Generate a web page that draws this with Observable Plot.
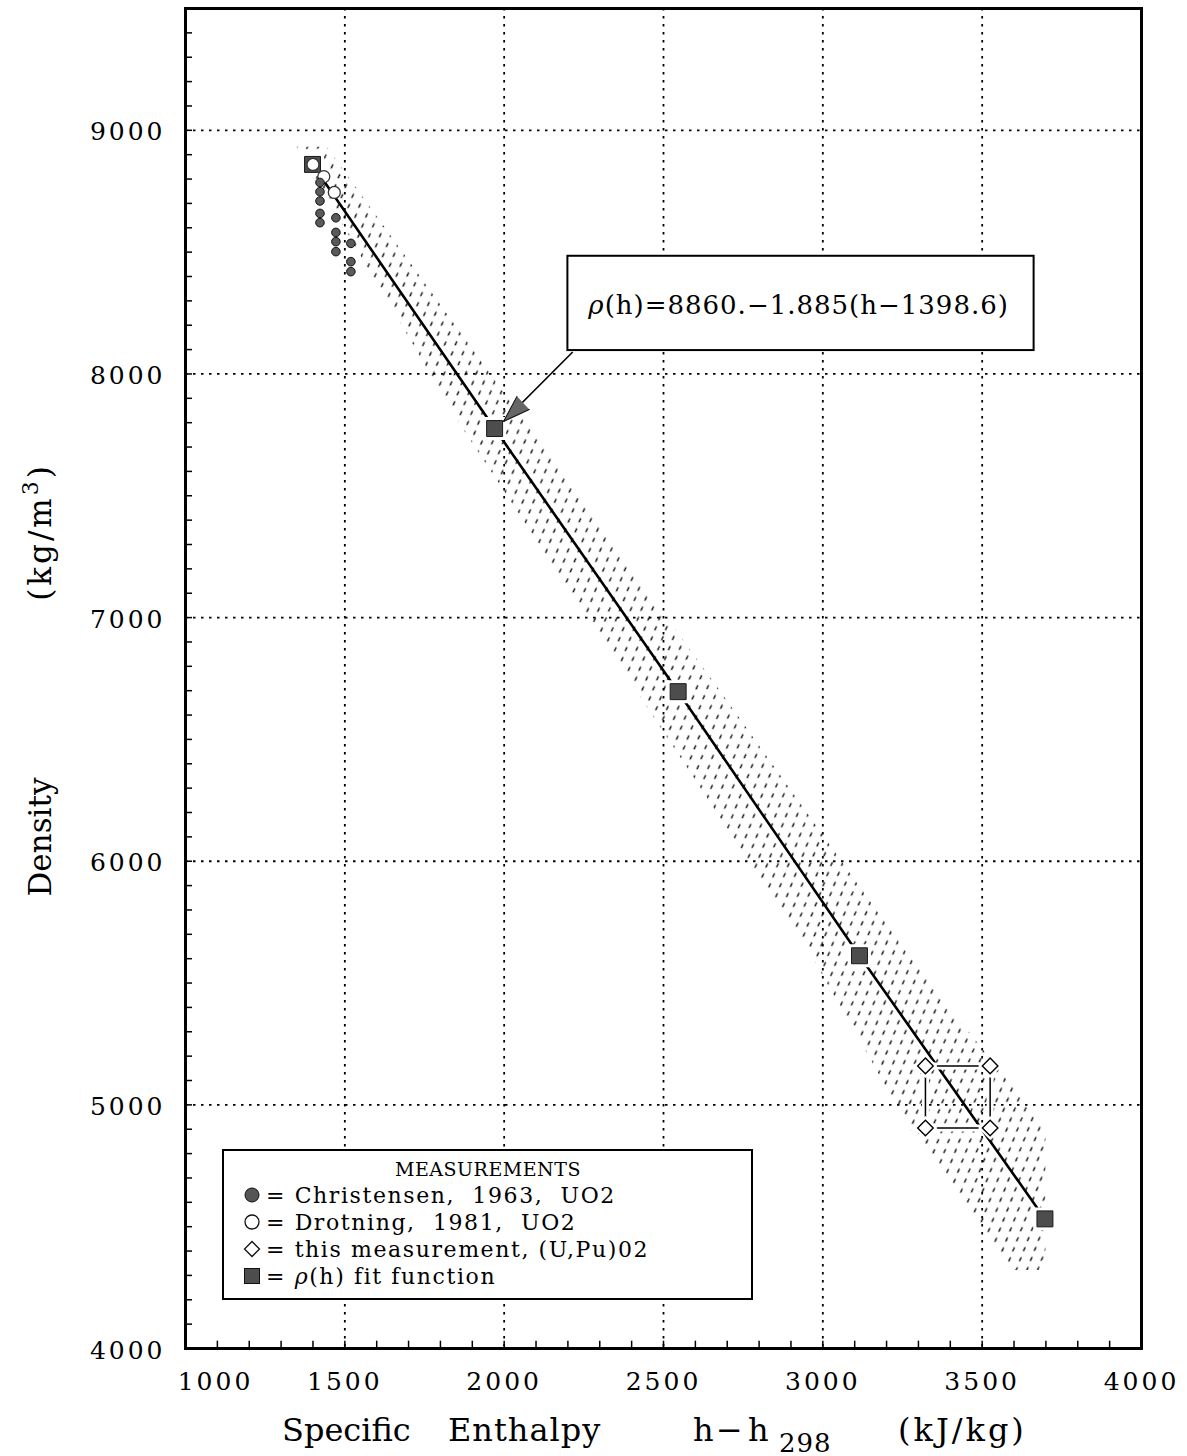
<!DOCTYPE html>
<html><head><meta charset="utf-8">
<script src="https://cdn.jsdelivr.net/npm/d3@7"></script>
<script src="https://cdn.jsdelivr.net/npm/@observablehq/plot@0.6"></script>
<style>
html,body{margin:0;padding:0;background:#fff;}
#chart svg{display:block;}
</style></head><body>
<div id="chart"></div>
<script>
// ---- data ----
const fitH   = [1398.6, 1970, 2546, 3115, 3697];
const fitRho = [8860, 7776, 6696, 5612, 4532];

const christensenH   = [1422, 1422, 1422, 1422, 1422, 1472, 1472, 1472, 1472, 1519, 1519, 1519];
const christensenRho = [8786, 8748, 8710, 8659, 8621, 8641, 8581, 8543, 8502, 8536, 8461, 8420];

const drotningH   = [1400, 1434, 1467];
const drotningRho = [8860, 8810, 8745];

const thisH   = [3322, 3525, 3525, 3322];
const thisRho = [5160, 5160, 4905, 4905];

// uncertainty band (stippled area) edges
const bandRho = [8930, 7776, 6696, 5612, 4900, 4320];
const bandLo  = [1350, 1870, 2417, 2965, 3275, 3600];
const bandHi  = [1445, 2080, 2680, 3270, 3700, 3700];

const xTicks = [1000, 1500, 2000, 2500, 3000, 3500, 4000];
const yTicks = [4000, 5000, 6000, 7000, 8000, 9000];
const xGrid  = [1500, 2000, 2500, 3000, 3500];
const yGrid  = [5000, 6000, 7000, 8000, 9000];
const xMinor = d3.range(1100, 4000, 100);
const yMinor = d3.range(4100, 9500, 100);

const noteText = "ρ(h)=8860.−1.885(h−1398.6)";
const noteBox  = {h1: 2200, h2: 3663, rho1: 8096, rho2: 8483, hc: 2924, rhoc: 8281};
const arrowFrom = {h: 2215, rho: 8090};
const arrowTip  = {h: 1998, rho: 7805};

const legendTitle = "MEASUREMENTS";
const legendLabels = ["= Christensen,  1963,  UO2", "= Drotning,  1981,  UO2", "= this measurement, (U,Pu)02", "(h) fit function"];

// ---- tables built from the arrays ----
const fit = fitH.map((h, i) => ({h, rho: fitRho[i]}));
const chr = christensenH.map((h, i) => ({h, rho: christensenRho[i]}));
const dro = drotningH.map((h, i) => ({h, rho: drotningRho[i]}));
const meas = thisH.map((h, i) => ({h, rho: thisRho[i]}));
const measLoop = [...meas, meas[0]];
const band = bandRho.map((rho, i) => ({rho, lo: bandLo[i], hi: bandHi[i]}));

const F = "DejaVu Serif";

const plot = Plot.plot({
  width: 1187, height: 1456,
  marginLeft: 185, marginRight: 46, marginTop: 8, marginBottom: 108,
  x: {domain: [1000, 4000], axis: null},
  y: {domain: [4000, 9500], axis: null},
  style: {fontFamily: F, background: "white", color: "black", overflow: "visible"},
  marks: [
    Plot.areaX(band, {y: "rho", x1: "lo", x2: "hi", fill: "url(#stipple)"}),
    Plot.ruleX(xGrid, {x: d => d, stroke: "black", strokeWidth: 1.8, strokeDasharray: "2.5,5.5"}),
    Plot.ruleY(yGrid, {y: d => d, stroke: "black", strokeWidth: 1.8, strokeDasharray: "2.5,5.5"}),
    Plot.ruleX(xMinor, {x: d => d, y1: 4000, y2: 4030, stroke: "black", strokeWidth: 1.5}),
    Plot.ruleY(yMinor, {y: d => d, x1: 1000, x2: 1022, stroke: "black", strokeWidth: 1.5}),
    // fit line
    Plot.line(fit, {x: "h", y: "rho", stroke: "black", strokeWidth: 2.6}),
    // measurement box
    Plot.line(measLoop, {x: "h", y: "rho", stroke: "white", strokeWidth: 7}),
    Plot.line(measLoop, {x: "h", y: "rho", stroke: "black", strokeWidth: 1.5}),
    // fit squares
    Plot.dot(fit, {x: "h", y: "rho", symbol: "square", r: 9, fill: "white", stroke: "white", strokeWidth: 7}),
    Plot.dot(fit, {x: "h", y: "rho", symbol: "square", r: 9, fill: "#4d4d4d", stroke: "#1a1a1a", strokeWidth: 1}),
    // Drotning
    Plot.dot(dro, {x: "h", y: "rho", r: 6, fill: "white", stroke: "#333", strokeWidth: 1.3}),
    // Christensen
    Plot.dot(chr, {x: "h", y: "rho", r: 4.3, fill: "#5a5a5a", stroke: "#111", strokeWidth: 1}),
    // this measurement
    Plot.dot(meas, {x: "h", y: "rho", symbol: "diamond2", r: 7, fill: "white", stroke: "white", strokeWidth: 6}),
    Plot.dot(meas, {x: "h", y: "rho", symbol: "diamond2", r: 7, fill: "white", stroke: "black", strokeWidth: 1.4}),
    // annotation
    Plot.link([arrowFrom], {x1: "h", y1: "rho", x2: () => arrowTip.h, y2: () => arrowTip.rho, stroke: "black", strokeWidth: 1.6}),
    Plot.vector([arrowTip], {x: "h", y: "rho", length: 27, rotate: 226.6, anchor: "end", shape: "spike", r: 9, fill: "#666", stroke: "#111", strokeWidth: 1}),
    Plot.rect([noteBox], {x1: "h1", x2: "h2", y1: "rho1", y2: "rho2", fill: "white", stroke: "black", strokeWidth: 2}),
    Plot.text([noteBox], {x: "hc", y: "rhoc", text: () => noteText, fontSize: 26}),
    // tick labels
    Plot.text(yTicks, {y: d => d, frameAnchor: "left", textAnchor: "end", dx: -20, dy: 2, text: d => String(d), fontSize: 25}),
    Plot.text(xTicks.slice(1), {x: d => d, frameAnchor: "bottom", dy: 41, text: d => String(d), fontSize: 25}),
    Plot.text(xTicks.slice(0, 1), {x: d => d, frameAnchor: "bottom", dy: 41, dx: 30, text: d => String(d), fontSize: 25}),
    Plot.frame({stroke: "black", strokeWidth: 3})
  ]
});

document.getElementById("chart").appendChild(plot);
const svg = d3.select(plot);

// stipple pattern
svg.insert("defs", ":first-child").html(
  '<pattern id="stipple" patternUnits="userSpaceOnUse" width="12" height="18" patternTransform="rotate(55)">' +
  '<line x1="2" y1="2" x2="3.6" y2="4.8" stroke="#111" stroke-width="1.5" stroke-linecap="round"/>' +
  '<line x1="8" y1="11" x2="9.6" y2="13.8" stroke="#111" stroke-width="1.5" stroke-linecap="round"/>' +
  '</pattern>');

// letter spacing for tick labels, italic rho in note
svg.selectAll("text").each(function() {
  const t = this.textContent;
  if (/^\d{4}$/.test(t)) d3.select(this).style("letter-spacing", "3px");
  if (t === noteText) {
    const s = d3.select(this);
    s.style("letter-spacing", "1px");
    const tx = s.select("tspan").empty() ? s : s.select("tspan");
    tx.text(null);
    tx.append("tspan").attr("font-style", "italic").text("ρ");
    tx.append("tspan").text(noteText.slice(1));
  }
});

// axis titles
const xt = svg.append("text").attr("font-family", F).attr("font-size", 32).attr("y", 1441)
  .attr("fill", "black").attr("text-anchor", "start");
xt.append("tspan").attr("x", 282).text("Specific");
xt.append("tspan").attr("x", 448).style("letter-spacing", "1px").text("Enthalpy");
xt.append("tspan").attr("x", 693).text("h");
xt.append("tspan").attr("x", 716).attr("transform", "scale(1.3,1)").text("−");
xt.append("tspan").attr("x", 748).text("h");
xt.append("tspan").attr("x", 779).attr("dy", 11).attr("font-size", 26).style("letter-spacing", "1px").text("298");
xt.append("tspan").attr("x", 898).attr("dy", -11).style("letter-spacing", "3px").text("(kJ/kg)");

svg.append("text").attr("font-family", F).attr("font-size", 31)
  .attr("transform", "translate(51,837) rotate(-90)").attr("text-anchor", "middle").text("Density");
const yu = svg.append("text").attr("font-family", F).attr("font-size", 31).style("letter-spacing", "3px")
  .attr("transform", "translate(51,532) rotate(-90)").attr("text-anchor", "middle");
yu.append("tspan").text("(kg/m");
yu.append("tspan").attr("dy", -13).attr("font-size", 22).text("3");
yu.append("tspan").attr("dy", 13).text(")");

// legend
const L = svg.append("g").attr("font-family", F).attr("fill", "black");
L.append("rect").attr("x", 223).attr("y", 1150).attr("width", 529).attr("height", 149)
  .attr("fill", "white").attr("stroke", "black").attr("stroke-width", 2);
L.append("text").attr("x", 488).attr("y", 1176).attr("text-anchor", "middle").attr("font-size", 19)
  .style("letter-spacing", "0.5px").text(legendTitle);
const rowY = [1203, 1230, 1257, 1284];
rowY.forEach((y, i) => {
  const cy = y - 8;
  if (i === 0) L.append("circle").attr("cx", 252).attr("cy", cy).attr("r", 7).attr("fill", "#555").attr("stroke", "#111");
  if (i === 1) L.append("circle").attr("cx", 252).attr("cy", cy).attr("r", 7).attr("fill", "white").attr("stroke", "#111").attr("stroke-width", 1.3);
  if (i === 2) L.append("path").attr("d", `M252,${cy-7.5}L259.5,${cy}L252,${cy+7.5}L244.5,${cy}Z`).attr("fill", "white").attr("stroke", "#111").attr("stroke-width", 1.3);
  if (i === 3) L.append("rect").attr("x", 244.5).attr("y", cy - 7.5).attr("width", 15).attr("height", 15).attr("fill", "#4d4d4d").attr("stroke", "#111");
  const t = L.append("text").attr("x", 266).attr("y", y).attr("font-size", 22)
    .attr("text-anchor", "start").attr("xml:space", "preserve")
    .style("white-space", "pre").style("letter-spacing", "1.6px");
  if (i === 3) {
    t.append("tspan").text("= ");
    t.append("tspan").attr("font-style", "italic").text("ρ");
    t.append("tspan").text(legendLabels[3]);
  } else t.text(legendLabels[i]);
});
</script>
</body></html>
